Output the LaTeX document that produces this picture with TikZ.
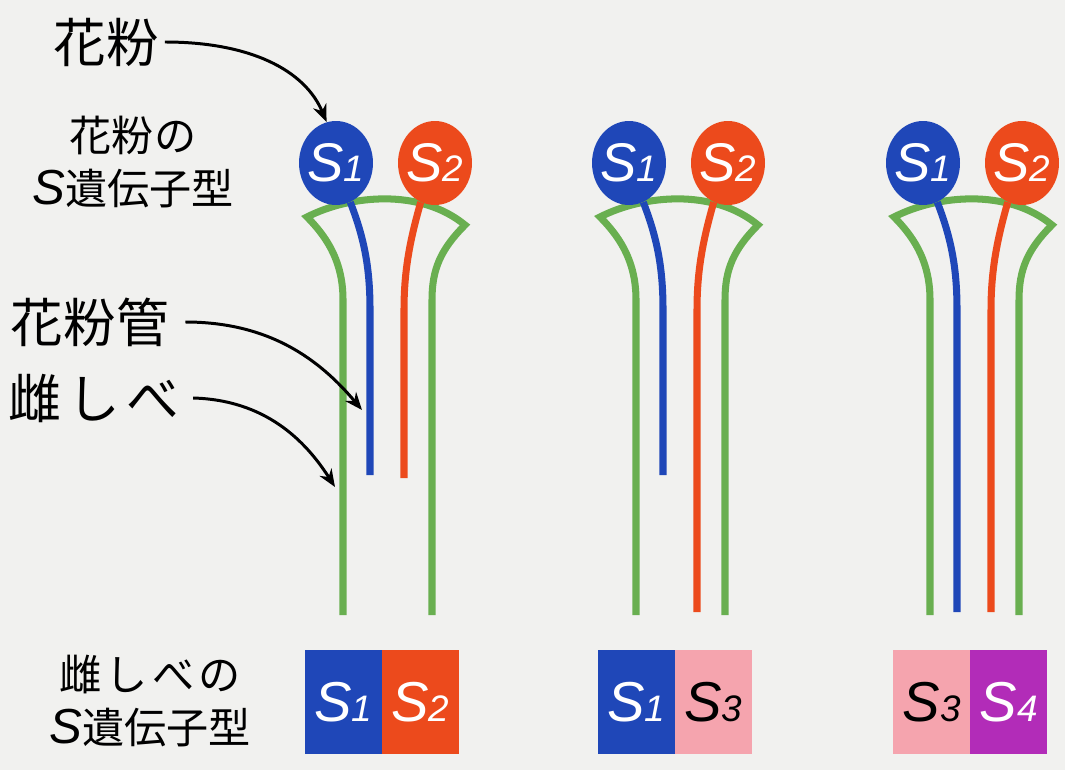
\documentclass[tikz,border=0pt]{standalone}
\usepackage{fontspec}
\setmainfont{Liberation Sans}
\newfontfamily\jp{Noto Sans CJK JP}
\usetikzlibrary{shapes.geometric,arrows.meta}

\definecolor{paper}{HTML}{F1F1EF}
\definecolor{sblue}{HTML}{1F47B8}
\definecolor{sred}{HTML}{EC4A1C}
\definecolor{spink}{HTML}{F5A4AE}
\definecolor{spurple}{HTML}{B22CB8}
\definecolor{stylegreen}{HTML}{69AF50}

% S allele with its number
\newcommand{\sgene}[1]{\textit{S}{\fontsize{21}{24}\selectfont\textit{#1}}}
% same, but without width so the grain keeps its size
\newcommand{\sgrain}[1]{\makebox[0pt]{\sgene{#1}}}
\newcommand{\sletter}{{\rmfamily\itshape\fontsize{28}{30}\selectfont S}}

\tikzset{
  pistil/.style={draw=stylegreen, line width=4pt},
  tube/.style={line width=4pt},
  grain/.style={ellipse, inner sep=0pt, minimum width=1.48cm, minimum height=1.68cm,
    text=white, font=\fontsize{31}{34}\selectfont},
  gene/.style={rectangle, inner sep=0pt, minimum width=1.54cm, minimum height=2.08cm,
    font=\fontsize{32}{34}\selectfont},
  biglabel/.style={font=\jp\fontsize{30}{36}\selectfont},
  smalllabel/.style={font=\jp\fontsize{24}{30}\selectfont, align=center},
  pointer/.style={line width=1.7pt, -{Stealth[length=10pt,width=8pt]}},
}

\begin{document}
\begin{tikzpicture}[x=0.02cm, y=-0.02cm]
    \fill[paper] (0,0) rectangle (1065,770);
    \useasboundingbox (0,0) rectangle (1065,770);

    % pistils
    \draw[pistil] (343,615) -- (343,300) .. controls (343,265) and (330,240) .. (307,217)
        .. controls (350,195) and (420,188) .. (465,225)
        .. controls (440,250) and (432,270) .. (432,300) -- (432,615);
    \draw[pistil] (636,615) -- (636,300) .. controls (636,265) and (623,240) .. (600,217)
        .. controls (643,195) and (713,188) .. (758,225)
        .. controls (733,250) and (725,270) .. (725,300) -- (725,615);
    \draw[pistil] (930,615) -- (930,300) .. controls (930,265) and (917,240) .. (894,217)
        .. controls (937,195) and (1007,188) .. (1052,225)
        .. controls (1027,250) and (1019,270) .. (1019,300) -- (1019,615);

    % pollen grains
    \node[grain, fill=sblue] (pol1a) at (336,163) {\sgrain{1}};
    \node[grain, fill=sred] (pol1b) at (435,163) {\sgrain{2}};
    \node[grain, fill=sblue] (pol2a) at (629,163) {\sgrain{1}};
    \node[grain, fill=sred] (pol2b) at (728,163) {\sgrain{2}};
    \node[grain, fill=sblue] (pol3a) at (923,163) {\sgrain{1}};
    \node[grain, fill=sred] (pol3b) at (1022,163) {\sgrain{2}};

    % pollen tubes
    \coordinate (end1a) at (370,475);
    \coordinate (end1b) at (404,478);
    \coordinate (end2a) at (663,475);
    \coordinate (end2b) at (697,612);
    \coordinate (end3a) at (957,612);
    \coordinate (end3b) at (991,612);

    \draw[tube, sblue] (pol1a.-70) .. controls (365,240) and (370,270) .. (370,310) -- (end1a);
    \draw[tube, sred] (pol1b.-110) .. controls (410,240) and (404,270) .. (404,310) -- (end1b);
    \draw[tube, sblue] (pol2a.-70) .. controls (658,240) and (663,270) .. (663,310) -- (end2a);
    \draw[tube, sred] (pol2b.-110) .. controls (703,240) and (697,270) .. (697,310) -- (end2b);
    \draw[tube, sblue] (pol3a.-70) .. controls (952,240) and (957,270) .. (957,310) -- (end3a);
    \draw[tube, sred] (pol3b.-110) .. controls (997,240) and (991,270) .. (991,310) -- (end3b);

    % S genotype of the pistil
    \node[gene, fill=sblue, text=white] (sty1a) at (343.5,702) {\sgene{1}};
    \node[gene, fill=sred, text=white] (sty1b) at (420.5,702) {\sgene{2}};
    \node[gene, fill=sblue, text=white] (sty2a) at (636.5,702) {\sgene{1}};
    \node[gene, fill=spink] (sty2b) at (713.5,702) {\sgene{3}};
    \node[gene, fill=spink] (sty3a) at (931.5,702) {\sgene{3}};
    \node[gene, fill=spurple, text=white] (sty3b) at (1008.5,702) {\sgene{4}};

    % labels
    \node[biglabel] (pollen) at (106,42) {花粉};
    \node[smalllabel] (pollengeno) at (133,162) {花粉の\\\sletter 遺伝子型};
    \node[biglabel] (tubelbl) at (90,322) {花粉管};
    \node[biglabel] (pistillbl) at (94,398) {雌\hspace{0.12em}し\hspace{0.12em}べ};
    \node[smalllabel] (pistilgeno) at (150,701) {雌\hspace{0.1em}し\hspace{0.1em}べ\hspace{0.1em}の\\\sletter 遺伝子型};

    \coordinate (tubetip) at (362,410);
    \coordinate (pistiltip) at (335,487);

    \draw[pointer] (pollen.east) .. controls (250,42) and (305,70) .. (pol1a.103);
    \draw[pointer] ([xshift=0.2cm]tubelbl.east) .. controls (270,322) and (320,360) .. (tubetip);
    \draw[pointer] ([xshift=0.15cm]pistillbl.east) .. controls (265,400) and (305,440) .. (pistiltip);

\end{tikzpicture}
\end{document}
